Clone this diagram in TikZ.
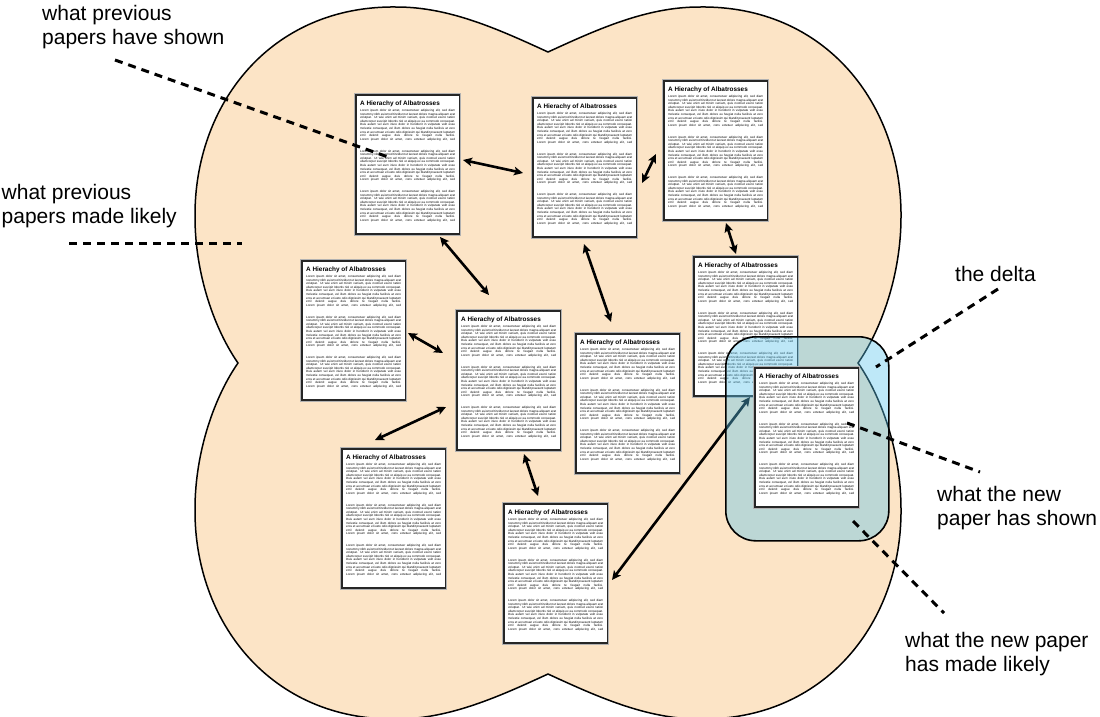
\documentclass[tikz,border=0pt]{standalone}
\usepackage{fontspec}
\setmainfont{Liberation Sans}
\usetikzlibrary{arrows.meta,calc}
\definecolor{blobfill}{RGB}{252,228,198}
\definecolor{deltablue}{RGB}{92,197,237}

\newcommand\loremblock{Lorem ipsum dolor sit amet, consectetuer adipiscing elit, sed diam\break
nonummy nibh euismod tincidunt ut laoreet dolore magna aliquam erat\break
volutpat. Ut wisi enim ad minim veniam, quis nostrud exerci tation\break
ullamcorper suscipit lobortis nisl ut aliquip ex ea commodo consequat.\break
Duis autem vel eum iriure dolor in hendrerit in vulputate velit esse\break
molestie consequat, vel illum dolore eu feugiat nulla facilisis at vero\break
eros et accumsan et iusto odio dignissim qui blandit praesent luptatum\break
zzril delenit augue duis dolore te feugait nulla facilisi.\break
Lorem ipsum dolor sit amet, cons ectetuer adipiscing elit, sed\par}

\newcommand\albpaper{\vbox to 139pt{\hsize=95pt\parindent=0pt\hbadness=10000\hfuzz=4pt
\vskip6.2pt
{\fontsize{6.4}{7}\selectfont\bfseries A Hierachy of Albatrosses\par}
\vskip2.2pt
{\fontsize{3.05}{3.6}\selectfont\parfillskip=0pt\parskip=0pt
\loremblock\vskip8.1pt\loremblock\vskip8.1pt\loremblock}
\vfill}}

\tikzset{
  paper/.style={draw=black!85, line width=1.8pt, fill=white, inner xsep=4.25pt,
    inner ysep=0pt, anchor=north west,
    preaction={draw=black!30, line width=3.2pt}},
  twoway/.style={{Stealth[length=9pt,width=8.5pt,inset=2pt]}-{Stealth[length=9pt,width=8.5pt,inset=2pt]}, line width=2.6pt},
  leader/.style={line width=3pt, dash pattern=on 8pt off 6pt},
  lbl/.style={anchor=north west, inner sep=0pt, align=left,
    font=\fontsize{21}{24.5}\selectfont},
  deltabox/.style={draw=black, line width=1.6pt, fill=deltablue, fill opacity=0.4,
    rounded corners=30pt, minimum width=163pt, minimum height=204pt,
    inner sep=0pt, anchor=north west}
}

\begin{document}
\begin{tikzpicture}[x=1pt,y=-1pt]
\useasboundingbox (0,0) rectangle (1100,716);

% the region of knowledge (four lobes)
\draw[fill=blobfill, line width=1.5pt]
  (548,52) .. controls (500,30) and (450,7) .. (397,7)
  .. controls (270,5) and (194,105) .. (195,217)
  .. controls (195,275) and (215,330) .. (238,363)
  .. controls (215,396) and (195,451) .. (195,509)
  .. controls (194,621) and (270,721) .. (397,719)
  .. controls (450,719) and (500,696) .. (548,674)
  .. controls (596,696) and (646,719) .. (699,719)
  .. controls (826,721) and (902,621) .. (901,509)
  .. controls (901,451) and (881,396) .. (858,363)
  .. controls (881,330) and (901,275) .. (901,217)
  .. controls (902,105) and (826,5) .. (699,7)
  .. controls (646,7) and (596,30) .. (548,52) -- cycle;

% previous papers
\node[paper] (p1) at (355,94)  {\albpaper};
\node[paper] (p2) at (532,97)  {\albpaper};
\node[paper] (p3) at (663,80)  {\albpaper};
\node[paper] (p4) at (301,260) {\albpaper};
\node[paper] (p5) at (456,310) {\albpaper};
\node[paper] (p6) at (575,333) {\albpaper};
\node[paper] (p7) at (693,256) {\albpaper};
\node[paper] (p8) at (341,448) {\albpaper};
\node[paper] (p9) at (503,503) {\albpaper};

% links between papers
\draw[twoway] ($(p1.north west)+(108,66)$)  -- ($(p2.north west)+(-9,76)$);
\draw[twoway] ($(p2.north west)+(110,86)$)  -- ($(p3.north west)+(-7,74)$);
\draw[twoway] ($(p3.north west)+(63,143)$)  -- ($(p7.north west)+(43,-2)$);
\draw[twoway] ($(p1.north west)+(85,143)$)  -- ($(p5.north west)+(33,-15)$);
\draw[twoway] ($(p2.north west)+(52,147)$)  -- ($(p6.north west)+(36,-11)$);
\draw[twoway] ($(p4.north west)+(107,73)$)  -- ($(p5.north west)+(-13,43)$);
\draw[twoway] ($(p5.north west)+(-10,97)$)  -- ($(p8.north west)+(34,-8)$);
\draw[twoway] ($(p5.north west)+(68,144)$)  -- ($(p9.north west)+(35,-7)$);

% new paper and its region
\coordinate (p10nw) at (754,367);
\draw[twoway] ($(p9.north west)+(109,77)$)  -- ($(p10nw)+(-4,30)$);
\node[deltabox] (nb) at (725,336) {};
\node[paper] (p10) at (p10nw) {\albpaper};

% leaders
\coordinate (d1a) at (115,60);  \coordinate (d1b) at (388,157);
\coordinate (d2a) at (69,243);  \coordinate (d2b) at (242,243);
\coordinate (d3a) at (998,289); \coordinate (d3b) at (876,367);
\coordinate (d4a) at (847,423); \coordinate (d4b) at (980,472);
\coordinate (d5a) at (853,521); \coordinate (d5b) at (944,613);
\draw[leader] (d1a) -- (d1b);
\draw[leader] (d2a) -- (d2b);
\draw[leader] (d3a) -- (d3b);
\draw[leader] (d4a) -- (d4b);
\draw[leader] (d5a) -- (d5b);

% labels
\node[lbl] (lshown)   at (42,4.7)    {what previous\\papers have shown};
\node[lbl] (llikely)  at (1.5,183.7) {what previous\\papers made likely};
\node[lbl] (ldelta)   at (955,265.7) {the delta};
\node[lbl] (lnshown)  at (937,485.7) {what the new\\paper has shown};
\node[lbl] (lnlikely) at (905,631.7) {what the new paper\\has made likely};
\end{tikzpicture}
\end{document}
